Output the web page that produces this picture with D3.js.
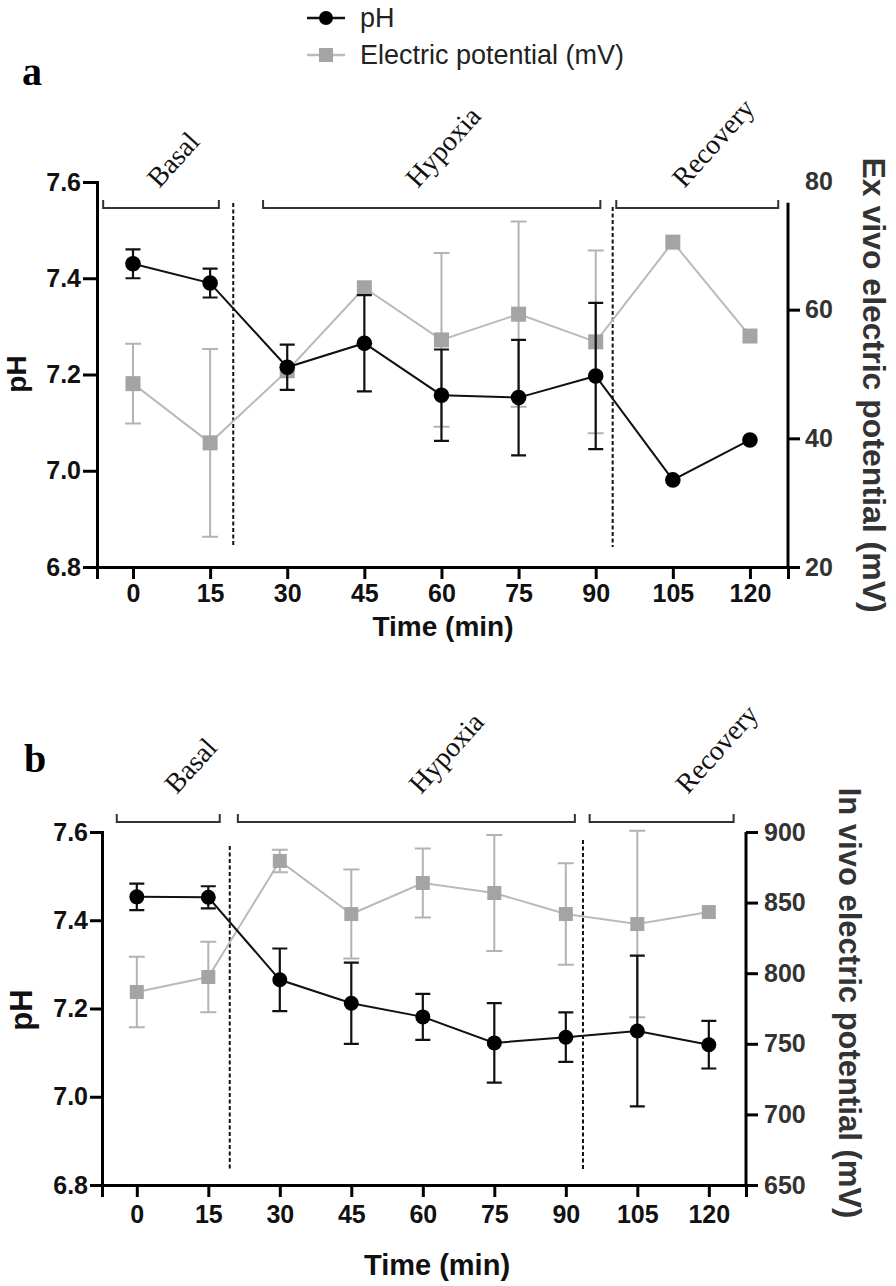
<!DOCTYPE html>
<html>
<head>
<meta charset="utf-8">
<script src="https://cdn.jsdelivr.net/npm/d3@7/dist/d3.min.js"></script>
<style>
body { margin: 0; background: #fff; }
</style>
</head>
<body>
<script>
// time points (min)
var timePoints = [0, 15, 30, 45, 60, 75, 90, 105, 120];
var phTicks = [6.8, 7.0, 7.2, 7.4, 7.6];

// panel a : ex vivo
var phA     = [7.430, 7.390, 7.215, 7.265, 7.157, 7.152, 7.197, 6.981, 7.064];
var phErrA  = [0.030, 0.030, 0.047, 0.100, 0.095, 0.120, 0.152, 0, 0];
var epA     = [48.5, 39.3, 50.5, 63.4, 55.3, 59.3, 55.0, 70.5, 55.9];
var epErrA  = [6.2, 14.6, 0, 0, 13.5, 14.4, 14.2, 0, 0];
var epTicksA = [20, 40, 60, 80];
var phasesA = [
  {name: "Basal",    start: -5.8, end: 16.7,  label: 5.1},
  {name: "Hypoxia",  start: 25.3, end: 90.9,  label: 55.4},
  {name: "Recovery", start: 94.0, end: 125.5, label: 107.2}
];
var dividersA = [19.5, 93.3];

// panel b : in vivo
var phB     = [7.453, 7.452, 7.265, 7.212, 7.181, 7.122, 7.135, 7.149, 7.118];
var phErrB  = [0.030, 0.025, 0.071, 0.092, 0.052, 0.090, 0.056, 0.171, 0.054];
var epB     = [786.7, 797.3, 879.5, 841.9, 863.9, 856.8, 841.9, 834.8, 843.3];
var epErrB  = [25, 25, 8, 31.5, 24.5, 41, 36, 66, 0];
var epTicksB = [650, 700, 750, 800, 850, 900];
var phasesB = [
  {name: "Basal",    start: -4.2, end: 17.4,  label: 8.4},
  {name: "Hypoxia",  start: 21.2, end: 91.9,  label: 59.6},
  {name: "Recovery", start: 95.0, end: 125.2, label: 115.6}
];
var dividersB = [19.5, 93.6];

var W = 896, H = 1286;
var sans = "'Liberation Sans', Arial, sans-serif";
var serif = "'Liberation Serif', 'Times New Roman', serif";
var grayLine = "#bababa", grayFill = "#a4a4a4", grayErr = "#b3b3b3";

var svg = d3.select("body").append("svg")
  .attr("width", W)
  .attr("height", H);

/* legend */
var leg = svg.append("g");
leg.append("line").attr("x1", 307).attr("x2", 345).attr("y1", 18).attr("y2", 18)
  .attr("stroke", "#111").attr("stroke-width", 2.5);
leg.append("circle").attr("cx", 326).attr("cy", 18).attr("r", 7).attr("fill", "#000");
leg.append("text").attr("x", 360).attr("y", 18).attr("dy", "0.35em")
  .attr("font-family", sans).attr("font-size", 27).attr("fill", "#222").text("pH");
leg.append("line").attr("x1", 307).attr("x2", 345).attr("y1", 55).attr("y2", 55)
  .attr("stroke", grayLine).attr("stroke-width", 2.5);
leg.append("rect").attr("x", 319).attr("y", 48).attr("width", 14).attr("height", 14).attr("fill", grayFill);
leg.append("text").attr("x", 360).attr("y", 55).attr("dy", "0.35em")
  .attr("font-family", sans).attr("font-size", 27).attr("fill", "#222").text("Electric potential (mV)");

function styleAxis(g, color) {
  g.selectAll("path, line").attr("stroke", "#000").attr("stroke-width", 3);
  g.selectAll("text").attr("font-family", sans).attr("font-size", 25)
    .attr("font-weight", "bold").attr("fill", color);
}

function drawPanel(p) {
  var x = d3.scaleLinear().domain(p.xDomain).range([p.left, p.right]);
  var yL = d3.scaleLinear().domain([6.8, 7.6]).range([p.bottom, p.top]);
  var yR = d3.scaleLinear().domain(p.epDomain).range([p.bottom, p.topR]);
  var g = svg.append("g");

  // panel letter
  g.append("text").attr("x", p.letterX).attr("y", p.letterY)
    .attr("font-family", serif).attr("font-weight", "bold").attr("font-size", 40)
    .text(p.letter);

  // phase brackets and labels
  p.phases.forEach(function(ph) {
    var x0 = x(ph.start), x1 = x(ph.end), by = p.bracketY;
    g.append("path")
      .attr("d", "M" + x0 + "," + (by - 8) + "V" + by + "H" + x1 + "V" + (by - 8))
      .attr("fill", "none").attr("stroke", "#333").attr("stroke-width", 2);
    g.append("text")
      .attr("transform", "translate(" + x(ph.label) + "," + (by - p.labelGap) + ") rotate(-48)")
      .attr("font-family", serif).attr("font-size", 28).attr("fill", "#111")
      .text(ph.name);
  });

  // dividers
  p.dividers.forEach(function(t, i) {
    g.append("line")
      .attr("x1", x(t)).attr("x2", x(t))
      .attr("y1", p.divTop[i]).attr("y2", p.divBottom)
      .attr("stroke", "#111").attr("stroke-width", 2)
      .attr("stroke-dasharray", "4,2.5");
  });

  // axes
  var gx = g.append("g").attr("transform", "translate(0," + p.bottom + ")")
    .call(d3.axisBottom(x).tickValues(timePoints).tickSizeOuter(0)
      .tickSize(12).tickPadding(p.xPad));
  styleAxis(gx, "#111");

  var gl = g.append("g").attr("transform", "translate(" + p.left + ",0)")
    .call(d3.axisLeft(yL).tickValues(phTicks).tickFormat(d3.format(".1f"))
      .tickSizeOuter(0).tickSize(p.tickL).tickPadding(2));
  styleAxis(gl, "#111");

  var gr = g.append("g").attr("transform", "translate(" + p.right + ",0)")
    .call(d3.axisRight(yR).tickValues(p.epTicks).tickFormat(d3.format("d"))
      .tickSizeOuter(0).tickSize(12).tickPadding(p.rPad));
  styleAxis(gr, "#333");
  gr.select(".domain").attr("d", "M0," + yR(p.rightLineTop) + "V" + p.bottom);
  gr.selectAll(".tick").filter(function(d) { return d > p.rightLineTop; })
    .select("line").remove();

  // axis titles
  g.append("text").attr("x", p.xTitleX).attr("y", p.xTitleY).attr("dy", "0.35em")
    .attr("text-anchor", "middle").attr("font-family", sans).attr("font-weight", "bold")
    .attr("font-size", p.xTitleSize).attr("fill", "#111").text("Time (min)");
  g.append("text")
    .attr("transform", "translate(" + p.phTitleX + "," + p.phTitleY + ") rotate(-90)")
    .attr("dy", "0.35em").attr("text-anchor", "middle").attr("font-family", sans)
    .attr("font-weight", "bold").attr("font-size", p.phTitleSize).attr("fill", "#111").text("pH");
  g.append("text")
    .attr("transform", "translate(" + p.rTitleX + "," + p.rTitleY + ") rotate(90)")
    .attr("dy", "0.35em").attr("text-anchor", "middle").attr("font-family", sans)
    .attr("font-weight", "bold").attr("font-size", p.rTitleSize).attr("fill", "#333").text(p.rightTitle);

  // electric potential series (behind)
  var epLine = d3.line().x(function(d, i) { return x(timePoints[i]); }).y(function(d) { return yR(d); });
  g.append("path").datum(p.ep).attr("d", epLine)
    .attr("fill", "none").attr("stroke", grayLine).attr("stroke-width", 2);
  p.ep.forEach(function(v, i) {
    var e = p.epErr[i], cx = x(timePoints[i]);
    if (e > 0) {
      g.append("path")
        .attr("d", "M" + (cx - 8) + "," + yR(v + e) + "H" + (cx + 8) +
                   "M" + cx + "," + yR(v + e) + "V" + yR(v - e) +
                   "M" + (cx - 8) + "," + yR(v - e) + "H" + (cx + 8))
        .attr("fill", "none").attr("stroke", grayErr).attr("stroke-width", 2);
    }
  });
  g.selectAll(".sq").data(p.ep).enter().append("rect")
    .attr("x", function(d, i) { return x(timePoints[i]) - p.sq / 2; })
    .attr("y", function(d) { return yR(d) - p.sq / 2; })
    .attr("width", p.sq).attr("height", p.sq).attr("fill", grayFill);

  // pH series
  var phLine = d3.line().x(function(d, i) { return x(timePoints[i]); }).y(function(d) { return yL(d); });
  g.append("path").datum(p.ph).attr("d", phLine)
    .attr("fill", "none").attr("stroke", "#111").attr("stroke-width", 2);
  p.ph.forEach(function(v, i) {
    var e = p.phErr[i], cx = x(timePoints[i]);
    if (e > 0) {
      g.append("path")
        .attr("d", "M" + (cx - 7.5) + "," + yL(v + e) + "H" + (cx + 7.5) +
                   "M" + cx + "," + yL(v + e) + "V" + yL(v - e) +
                   "M" + (cx - 7.5) + "," + yL(v - e) + "H" + (cx + 7.5))
        .attr("fill", "none").attr("stroke", "#111").attr("stroke-width", 2.2);
    }
  });
  g.selectAll(".dot").data(p.ph).enter().append("circle")
    .attr("cx", function(d, i) { return x(timePoints[i]); })
    .attr("cy", function(d) { return yL(d); })
    .attr("r", p.r).attr("fill", "#000");
}

drawPanel({
  letter: "a", letterX: 22, letterY: 85,
  xDomain: [-7, 127.4], left: 97, right: 788, top: 182, topR: 181, bottom: 567,
  epDomain: [20, 80], epTicks: epTicksA, rightLineTop: 76.6,
  ph: phA, phErr: phErrA, ep: epA, epErr: epErrA,
  phases: phasesA, bracketY: 208, labelGap: 19,
  dividers: dividersA, divTop: [203, 207], divBottom: 547,
  tickL: 14, xPad: 5,
  rPad: 5,
  xTitleX: 443, xTitleY: 626, xTitleSize: 28,
  phTitleX: 16, phTitleY: 374, phTitleSize: 28,
  rTitleX: 874, rTitleY: 385, rTitleSize: 32, rightTitle: "Ex vivo electric potential (mV)",
  sq: 15, r: 7.8
});

drawPanel({
  letter: "b", letterX: 24, letterY: 772,
  xDomain: [-7.3, 127.8], left: 102, right: 746, top: 832, topR: 832, bottom: 1185,
  epDomain: [650, 900], epTicks: epTicksB, rightLineTop: 900,
  ph: phB, phErr: phErrB, ep: epB, epErr: epErrB,
  phases: phasesB, bracketY: 822, labelGap: 27,
  dividers: dividersB, divTop: [846, 840], divBottom: 1169,
  tickL: 12, xPad: 8, rPad: 6,
  xTitleX: 437, xTitleY: 1265, xTitleSize: 29,
  phTitleX: 21, phTitleY: 1010, phTitleSize: 31,
  rTitleX: 850, rTitleY: 1003, rTitleSize: 31, rightTitle: "In vivo electric potential (mV)",
  sq: 14, r: 7.5
});
</script>
</body>
</html>
